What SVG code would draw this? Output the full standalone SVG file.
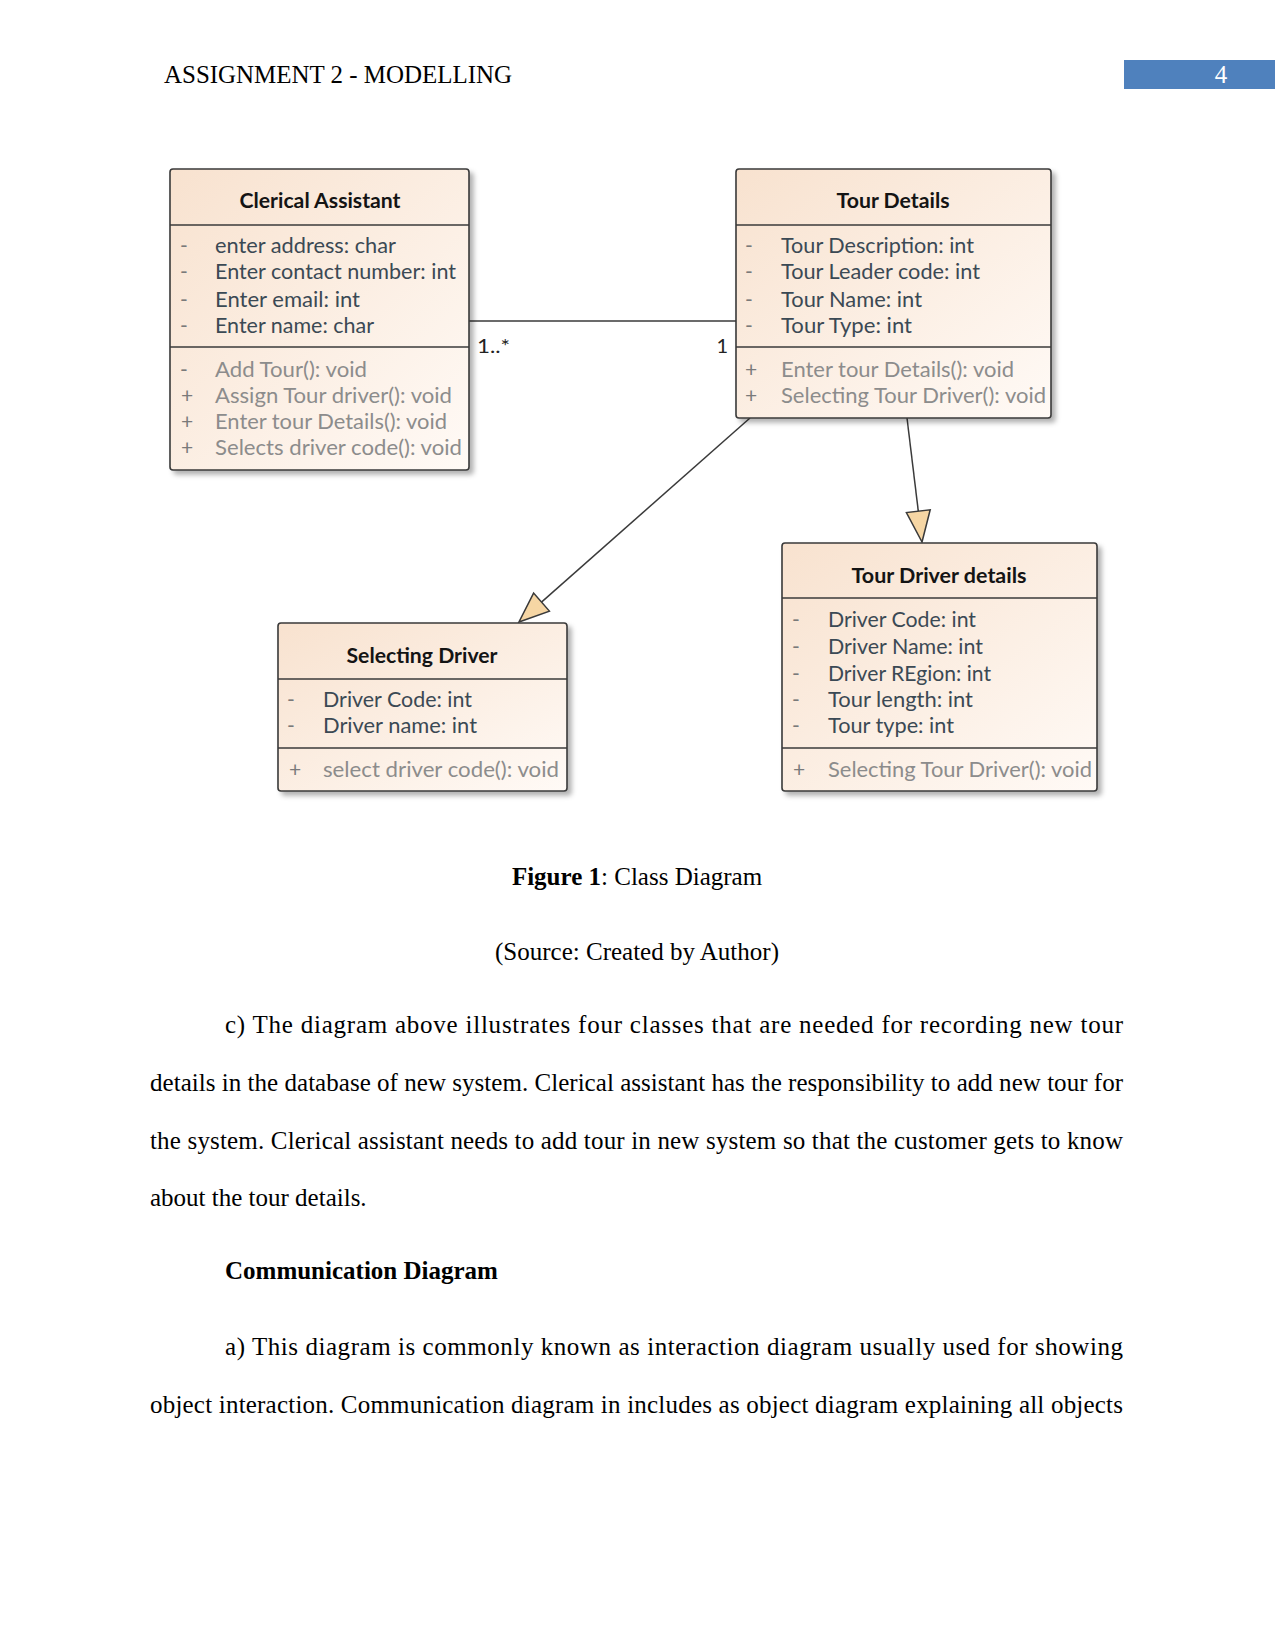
<svg xmlns="http://www.w3.org/2000/svg" width="1275" height="1651" viewBox="0 0 1275 1651">
<defs>
<style>
.serif{font-family:"Liberation Serif","Times New Roman",serif;font-size:25px;fill:#000}
.b{font-weight:700}
.cls{fill:url(#fillg);stroke:#3a3a3a;stroke-width:1.6}
.div{stroke:#3a3a3a;stroke-width:1.6}
.ttl{font-family:Lato,"Open Sans",sans-serif;font-weight:700;font-size:21px;fill:#141414;text-anchor:middle}
.att{font-family:Lato,"Open Sans",sans-serif;font-size:21px;fill:#3b4954}
.mth{font-family:Lato,"Open Sans",sans-serif;font-size:21px;fill:#8c8c8c}
.vis{font-family:Lato,"Open Sans",sans-serif;font-size:21px;fill:#7a7a7a;text-anchor:middle}
.conn{stroke:#3a3a3a;stroke-width:1.5;fill:none}
.tri{fill:#f6d6a4;stroke:#3a3a3a;stroke-width:1.5;stroke-linejoin:miter}
.mult{font-family:Lato,"Open Sans",sans-serif;font-size:20px;fill:#222}
</style>
<linearGradient id="fillg" x1="0" y1="0" x2="1" y2="1">
<stop offset="0" stop-color="#f8e2cf"/>
<stop offset="1" stop-color="#fffaf6"/>
</linearGradient>
<filter id="sh" x="-10%" y="-10%" width="125%" height="125%">
<feDropShadow dx="4" dy="4" stdDeviation="2.5" flood-color="#000" flood-opacity="0.3"/>
</filter>
</defs>
<rect width="1275" height="1651" fill="#fff"/>

<g id="page-header">
<text class="serif" x="164" y="83" textLength="348" lengthAdjust="spacingAndGlyphs">ASSIGNMENT 2 - MODELLING</text>
<rect x="1124" y="60" width="151" height="29" fill="#4f81bd"/>
<text class="serif" x="1221" y="83" text-anchor="middle" style="fill:#fff">4</text>
</g>

<g id="connectors">
<line class="conn" x1="469" y1="321" x2="736" y2="321"/>
<text class="mult" x="477" y="353" textLength="33" lengthAdjust="spacingAndGlyphs">1..*</text>
<text class="mult" x="728" y="353" text-anchor="end">1</text>
<line class="conn" x1="750" y1="418" x2="541.5" y2="602.1"/>
<polygon class="tri" points="519,622 549.4,611.1 533.6,593.1"/>
<line class="conn" x1="907" y1="418" x2="918.3" y2="511.2"/>
<polygon class="tri" points="922,542 930.2,509.8 906.4,512.6"/>
</g>

<g id="clerical-assistant">
<rect class="cls" x="170" y="169" width="299" height="301" rx="3" filter="url(#sh)"/>
<line class="div" x1="170" y1="225" x2="469" y2="225"/>
<line class="div" x1="170" y1="347" x2="469" y2="347"/>
<text class="ttl" x="320" y="208" textLength="161" lengthAdjust="spacingAndGlyphs">Clerical Assistant</text>
<text class="vis" x="184" y="253">-</text>
<text class="vis" x="184" y="279">-</text>
<text class="vis" x="184" y="307">-</text>
<text class="vis" x="184" y="333">-</text>
<text class="att" x="215" y="253" textLength="181" lengthAdjust="spacingAndGlyphs">enter address: char</text>
<text class="att" x="215" y="279" textLength="241" lengthAdjust="spacingAndGlyphs">Enter contact number: int</text>
<text class="att" x="215" y="307" textLength="145" lengthAdjust="spacingAndGlyphs">Enter email: int</text>
<text class="att" x="215" y="333" textLength="159" lengthAdjust="spacingAndGlyphs">Enter name: char</text>
<text class="vis" x="184" y="377">-</text>
<text class="vis" x="187" y="403">+</text>
<text class="vis" x="187" y="429">+</text>
<text class="vis" x="187" y="455">+</text>
<text class="mth" x="215" y="377" textLength="152" lengthAdjust="spacingAndGlyphs">Add Tour(): void</text>
<text class="mth" x="215" y="403" textLength="237" lengthAdjust="spacingAndGlyphs">Assign Tour driver(): void</text>
<text class="mth" x="215" y="429" textLength="232" lengthAdjust="spacingAndGlyphs">Enter tour Details(): void</text>
<text class="mth" x="215" y="455" textLength="247" lengthAdjust="spacingAndGlyphs">Selects driver code(): void</text>
</g>

<g id="tour-details">
<rect class="cls" x="736" y="169" width="315" height="249" rx="3" filter="url(#sh)"/>
<line class="div" x1="736" y1="225" x2="1051" y2="225"/>
<line class="div" x1="736" y1="347" x2="1051" y2="347"/>
<text class="ttl" x="893" y="208" textLength="113" lengthAdjust="spacingAndGlyphs">Tour Details</text>
<text class="vis" x="749" y="253">-</text>
<text class="vis" x="749" y="279">-</text>
<text class="vis" x="749" y="307">-</text>
<text class="vis" x="749" y="333">-</text>
<text class="att" x="781" y="253" textLength="193" lengthAdjust="spacingAndGlyphs">Tour Description: int</text>
<text class="att" x="781" y="279" textLength="199" lengthAdjust="spacingAndGlyphs">Tour Leader code: int</text>
<text class="att" x="781" y="307" textLength="141" lengthAdjust="spacingAndGlyphs">Tour Name: int</text>
<text class="att" x="781" y="333" textLength="131" lengthAdjust="spacingAndGlyphs">Tour Type: int</text>
<text class="vis" x="751" y="377">+</text>
<text class="vis" x="751" y="403">+</text>
<text class="mth" x="781" y="377" textLength="233" lengthAdjust="spacingAndGlyphs">Enter tour Details(): void</text>
<text class="mth" x="781" y="403" textLength="265" lengthAdjust="spacingAndGlyphs">Selecting Tour Driver(): void</text>
</g>

<g id="selecting-driver">
<rect class="cls" x="278" y="623" width="289" height="168" rx="3" filter="url(#sh)"/>
<line class="div" x1="278" y1="679" x2="567" y2="679"/>
<line class="div" x1="278" y1="748" x2="567" y2="748"/>
<text class="ttl" x="422" y="663" textLength="151" lengthAdjust="spacingAndGlyphs">Selecting Driver</text>
<text class="vis" x="291" y="707">-</text>
<text class="vis" x="291" y="733">-</text>
<text class="att" x="323" y="707" textLength="149" lengthAdjust="spacingAndGlyphs">Driver Code: int</text>
<text class="att" x="323" y="733" textLength="154" lengthAdjust="spacingAndGlyphs">Driver name: int</text>
<text class="vis" x="295" y="777">+</text>
<text class="mth" x="323" y="777" textLength="236" lengthAdjust="spacingAndGlyphs">select driver code(): void</text>
</g>

<g id="tour-driver-details">
<rect class="cls" x="782" y="543" width="315" height="248" rx="3" filter="url(#sh)"/>
<line class="div" x1="782" y1="598" x2="1097" y2="598"/>
<line class="div" x1="782" y1="748" x2="1097" y2="748"/>
<text class="ttl" x="939" y="583" textLength="175" lengthAdjust="spacingAndGlyphs">Tour Driver details</text>
<text class="vis" x="796" y="627">-</text>
<text class="vis" x="796" y="654">-</text>
<text class="vis" x="796" y="681">-</text>
<text class="vis" x="796" y="707">-</text>
<text class="vis" x="796" y="733">-</text>
<text class="att" x="828" y="627" textLength="148" lengthAdjust="spacingAndGlyphs">Driver Code: int</text>
<text class="att" x="828" y="654" textLength="155" lengthAdjust="spacingAndGlyphs">Driver Name: int</text>
<text class="att" x="828" y="681" textLength="163" lengthAdjust="spacingAndGlyphs">Driver REgion: int</text>
<text class="att" x="828" y="707" textLength="145" lengthAdjust="spacingAndGlyphs">Tour length: int</text>
<text class="att" x="828" y="733" textLength="126" lengthAdjust="spacingAndGlyphs">Tour type: int</text>
<text class="vis" x="799" y="777">+</text>
<text class="mth" x="828" y="777" textLength="264" lengthAdjust="spacingAndGlyphs">Selecting Tour Driver(): void</text>
</g>

<g id="body-text">
<text class="serif" x="637" y="885" text-anchor="middle"><tspan class="b">Figure 1</tspan>: Class Diagram</text>
<text class="serif" x="637" y="960" text-anchor="middle">(Source: Created by Author)</text>
<text class="serif" x="225" y="1033" textLength="898" lengthAdjust="spacing">c) The diagram above illustrates four classes that are needed for recording new tour</text>
<text class="serif" x="150" y="1091" textLength="973" lengthAdjust="spacing">details in the database of new system. Clerical assistant has the responsibility to add new tour for</text>
<text class="serif" x="150" y="1149" textLength="973" lengthAdjust="spacing">the system. Clerical assistant needs to add tour in new system so that the customer gets to know</text>
<text class="serif" x="150" y="1206">about the tour details.</text>
<text class="serif b" x="225" y="1279">Communication Diagram</text>
<text class="serif" x="225" y="1355" textLength="898" lengthAdjust="spacing">a) This diagram is commonly known as interaction diagram usually used for showing</text>
<text class="serif" x="150" y="1413" textLength="973" lengthAdjust="spacing">object interaction. Communication diagram in includes as object diagram explaining all objects</text>
</g>
</svg>
